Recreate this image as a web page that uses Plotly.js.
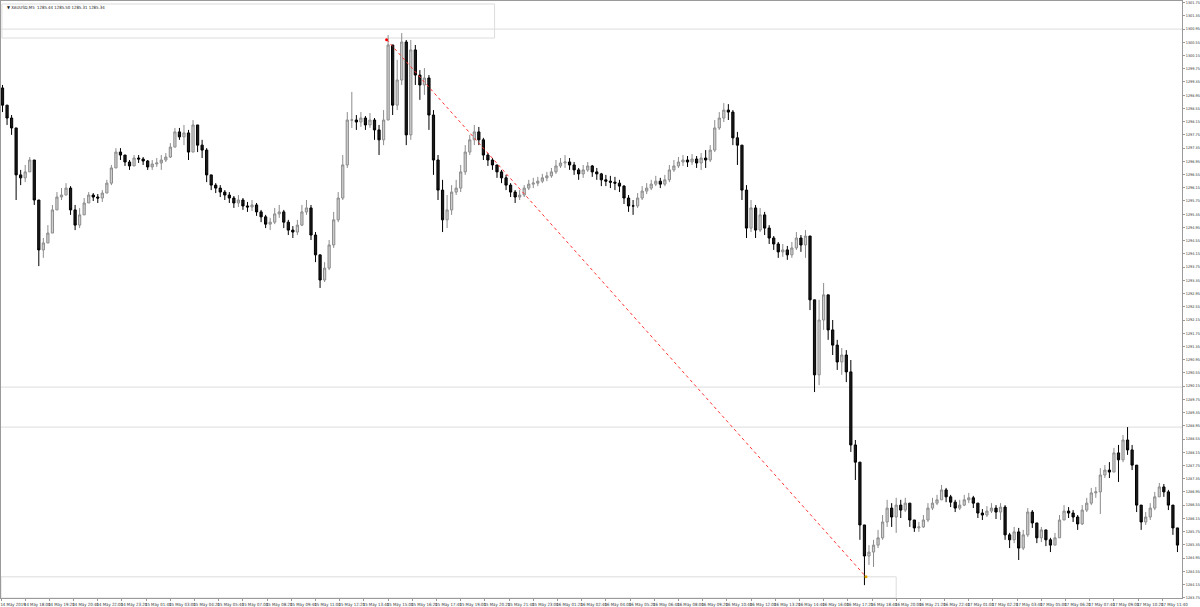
<!DOCTYPE html>
<html>
<head>
<meta charset="utf-8">
<script src="https://cdn.plot.ly/plotly-3.0.1.min.js"></script>
<style>html,body{margin:0;padding:0;background:#fff}#chart{width:1200px;height:607px}</style>
</head>
<body>
<div id="chart"></div>
<script>
// XAUUSD M5 — one candle per 3 M5 bars (15 min)
const symbolTitle = "XAUUSD,M5  1285.44 1285.50 1285.31 1285.34";
const firstOpen = 1299.17;
const closes = [
1298.65,1298.26,1297.96,1296.54,1296.45,1296.63,1296.99,1295.78,1294.27,1294.48,
1294.78,1295.48,1295.87,1295.93,1296.14,1295.48,1295.02,1295.33,1295.69,1295.93,
1295.87,1295.84,1295.99,1296.29,1296.75,1297.23,1297.14,1296.93,1296.81,1297.05,
1297.02,1296.96,1296.78,1296.87,1296.90,1296.99,1297.08,1297.38,1297.84,1297.69,
1297.81,1297.23,1298.05,1297.44,1297.29,1296.54,1296.23,1296.14,1296.02,1295.93,
1295.84,1295.69,1295.78,1295.60,1295.57,1295.63,1295.42,1295.27,1295.05,1295.11,
1295.36,1295.42,1295.11,1294.87,1294.81,1295.02,1295.42,1295.54,1294.72,1294.12,
1293.36,1293.72,1294.42,1295.18,1295.84,1296.84,1298.20,1298.20,1298.14,1298.26,
1298.05,1298.20,1297.90,1297.60,1298.20,1300.47,1298.65,1299.41,1300.56,1297.75,
1300.32,1299.56,1299.26,1299.47,1298.35,1296.99,1296.08,1295.18,1295.48,1296.02,
1296.14,1296.63,1297.23,1297.60,1297.84,1297.60,1297.14,1296.99,1296.84,1296.63,
1296.45,1296.23,1296.02,1295.87,1295.93,1296.14,1296.26,1296.29,1296.35,1296.45,
1296.51,1296.63,1296.81,1296.90,1296.93,1296.84,1296.69,1296.57,1296.69,1296.81,
1296.63,1296.57,1296.39,1296.35,1296.32,1296.29,1296.20,1295.84,1295.60,1295.60,
1295.84,1296.05,1296.14,1296.26,1296.35,1296.26,1296.39,1296.69,1296.81,1296.93,
1296.99,1296.93,1297.02,1296.90,1297.05,1296.99,1297.29,1297.96,1298.26,1298.50,
1298.44,1297.66,1297.44,1296.08,1294.93,1295.54,1294.87,1295.33,1294.93,1294.63,
1294.45,1294.21,1294.27,1294.12,1294.33,1294.63,1294.42,1294.69,1292.76,1290.49,
1292.15,1292.91,1291.85,1291.39,1290.88,1291.09,1290.58,1288.37,1287.85,1285.95,
1285.01,1285.13,1285.34,1285.56,1286.04,1286.46,1286.19,1286.55,1286.40,1286.61,
1286.10,1285.86,1285.89,1286.10,1286.46,1286.61,1286.71,1287.01,1286.80,1286.64,
1286.46,1286.55,1286.71,1286.77,1286.61,1286.31,1286.25,1286.37,1286.46,1286.34,
1286.49,1285.65,1285.50,1285.74,1285.25,1285.65,1286.34,1286.01,1285.56,1285.80,
1285.50,1285.34,1285.56,1286.10,1286.37,1286.31,1286.19,1285.98,1286.40,1286.61,
1286.92,1286.95,1287.46,1287.61,1287.55,1288.13,1287.92,1288.52,1288.22,1287.76,
1286.55,1286.04,1286.19,1286.46,1286.80,1287.10,1286.95,1286.55,1285.86,1285.34
];
const highs = [
1299.26,1298.50,1298.35,1297.60,1296.69,1296.84,1297.08,1296.84,1295.33,1294.63,
1295.02,1295.63,1296.02,1296.14,1296.29,1296.20,1295.63,1295.54,1295.84,1296.02,
1295.99,1295.96,1296.08,1296.39,1296.84,1297.35,1297.35,1297.11,1296.99,1297.14,
1297.14,1297.08,1296.99,1296.99,1297.05,1297.14,1297.20,1297.50,1297.96,1297.96,
1298.05,1297.90,1298.20,1298.05,1297.60,1297.35,1296.54,1296.29,1296.23,1296.08,
1296.02,1295.90,1295.93,1295.84,1295.72,1295.78,1295.69,1295.48,1295.33,1295.24,
1295.54,1295.63,1295.48,1295.18,1294.99,1295.18,1295.63,1295.78,1295.63,1294.81,
1294.12,1293.90,1294.57,1295.42,1296.02,1297.14,1298.44,1299.05,1298.35,1298.44,
1298.32,1298.41,1298.26,1298.05,1298.50,1300.77,1300.47,1300.02,1300.83,1300.62,
1300.62,1300.47,1299.71,1299.77,1299.56,1298.50,1297.14,1296.39,1295.93,1296.23,
1296.39,1296.84,1297.44,1297.75,1298.05,1297.99,1297.66,1297.20,1297.05,1296.84,
1296.69,1296.54,1296.29,1296.08,1296.08,1296.23,1296.39,1296.45,1296.48,1296.57,
1296.63,1296.75,1296.99,1297.05,1297.14,1297.05,1296.93,1296.75,1296.84,1296.93,
1296.84,1296.75,1296.60,1296.54,1296.51,1296.48,1296.39,1296.23,1295.93,1295.78,
1295.99,1296.20,1296.29,1296.39,1296.51,1296.45,1296.54,1296.84,1296.99,1297.08,
1297.14,1297.11,1297.17,1297.11,1297.20,1297.29,1297.44,1298.20,1298.44,1298.71,
1298.68,1298.50,1297.84,1297.44,1296.23,1295.78,1295.63,1295.54,1295.42,1295.02,
1294.69,1294.51,1294.45,1294.39,1294.51,1294.81,1294.72,1294.87,1294.03,1292.76,
1292.76,1293.27,1292.91,1292.15,1291.55,1291.30,1291.24,1290.94,1288.52,1287.85,
1285.95,1285.34,1285.50,1285.80,1286.25,1286.71,1286.61,1286.77,1286.71,1286.77,
1286.55,1286.10,1286.04,1286.25,1286.61,1286.77,1286.86,1287.16,1287.07,1286.86,
1286.71,1286.71,1286.86,1286.92,1286.83,1286.61,1286.43,1286.52,1286.61,1286.55,
1286.61,1286.55,1285.71,1285.89,1285.86,1285.80,1286.46,1286.40,1285.95,1285.89,
1285.80,1285.56,1285.71,1286.25,1286.55,1286.49,1286.40,1286.25,1286.55,1286.77,
1287.07,1287.10,1287.67,1287.76,1287.85,1288.28,1288.37,1288.67,1288.91,1288.37,
1287.76,1286.55,1286.34,1286.61,1286.95,1287.22,1287.19,1287.01,1286.55,1285.86
];
const lows = [
1298.44,1298.05,1297.75,1295.78,1296.23,1296.32,1296.75,1295.63,1293.78,1294.03,
1294.57,1295.02,1295.63,1295.78,1295.93,1295.33,1294.87,1294.93,1295.48,1295.69,
1295.75,1295.69,1295.72,1296.02,1296.23,1296.84,1296.99,1296.81,1296.69,1296.81,
1296.90,1296.84,1296.69,1296.69,1296.78,1296.69,1296.93,1297.05,1297.44,1297.60,
1297.44,1296.99,1297.44,1297.23,1297.05,1296.32,1296.08,1295.99,1295.87,1295.78,
1295.69,1295.54,1295.57,1295.48,1295.42,1295.45,1295.30,1295.11,1294.93,1294.87,
1295.05,1295.24,1294.93,1294.72,1294.63,1294.72,1294.99,1295.33,1294.57,1293.90,
1293.12,1293.30,1293.66,1294.33,1295.11,1295.78,1296.75,1297.96,1297.90,1297.99,
1297.90,1297.96,1297.60,1297.14,1297.44,1298.20,1298.35,1298.50,1299.26,1297.44,
1297.60,1299.26,1298.81,1298.96,1297.90,1296.54,1295.78,1294.81,1294.93,1295.33,
1295.93,1296.02,1296.54,1297.14,1297.44,1297.44,1296.99,1296.81,1296.69,1296.45,
1296.29,1296.08,1295.87,1295.69,1295.78,1295.87,1296.08,1296.14,1296.20,1296.29,
1296.35,1296.45,1296.57,1296.75,1296.75,1296.69,1296.54,1296.39,1296.45,1296.63,
1296.48,1296.39,1296.20,1296.20,1296.14,1296.08,1296.02,1295.66,1295.42,1295.33,
1295.54,1295.78,1295.96,1296.08,1296.20,1296.14,1296.20,1296.32,1296.63,1296.75,
1296.81,1296.78,1296.84,1296.75,1296.69,1296.75,1296.93,1297.23,1297.90,1298.14,
1298.20,1297.44,1296.84,1295.78,1294.63,1294.81,1294.63,1294.81,1294.72,1294.45,
1294.27,1294.03,1294.06,1293.97,1294.03,1294.27,1294.21,1294.03,1292.45,1289.97,
1290.18,1291.85,1291.55,1291.09,1290.64,1290.49,1290.27,1288.16,1287.31,1285.50,
1284.13,1284.74,1284.68,1285.25,1285.50,1285.89,1285.89,1285.71,1286.16,1286.34,
1285.89,1285.74,1285.74,1285.86,1286.04,1286.40,1286.55,1286.71,1286.64,1286.49,
1286.34,1286.40,1286.52,1286.61,1286.46,1286.16,1286.10,1286.19,1286.31,1286.13,
1286.10,1285.50,1285.25,1285.40,1284.89,1285.19,1285.59,1285.86,1285.40,1285.43,
1285.31,1285.13,1285.34,1285.65,1286.16,1286.16,1286.04,1285.80,1285.95,1286.34,
1286.55,1286.77,1286.28,1287.37,1287.37,1287.61,1287.25,1287.85,1288.07,1287.61,
1286.34,1285.80,1285.95,1286.10,1286.40,1286.86,1286.80,1286.40,1285.65,1285.13
];
const timeLabels = [
"14 May 2019","14 May 18:00","14 May 19:20","14 May 20:40","14 May 22:00","14 May 23:20",
"15 May 01:40","15 May 03:00","15 May 04:20","15 May 05:40","15 May 07:00","15 May 08:20",
"15 May 09:40","15 May 11:00","15 May 12:20","15 May 13:40","15 May 15:00","15 May 16:20",
"15 May 17:40","15 May 19:00","15 May 20:20","15 May 21:40","15 May 23:00","16 May 01:20",
"16 May 02:40","16 May 04:00","16 May 05:20","16 May 06:40","16 May 08:00","16 May 09:20",
"16 May 10:40","16 May 12:00","16 May 13:20","16 May 14:40","16 May 16:00","16 May 17:20",
"16 May 18:40","16 May 20:00","16 May 21:20","16 May 22:40","17 May 01:00","17 May 02:20",
"17 May 03:40","17 May 05:00","17 May 06:20","17 May 07:40","17 May 09:00","17 May 10:20",
"17 May 11:40","17 May 13:00"
];
// chart objects (price levels / bar indices)
const hLevels = [1300.95, 1290.12, 1288.91];
const trendBars = [255, 572];
const trendPrices = [1300.63, 1284.38];
const boxTop = {bars:[0.6, 326.4], prices:[1301.71, 1300.68]};
const boxBottom = {bars:[0, 592], prices:[1284.38, 1283.74]};

const barsPerCandle = 3, barsPerLabel = 16;
const xs = closes.map((c, i) => i * barsPerCandle + 1);
const opens = closes.map((c, i) => i === 0 ? firstOpen : closes[i - 1]);
const hi = highs.map((h, i) => Math.max(h, opens[i], closes[i]));
const lo = lows.map((l, i) => Math.min(l, opens[i], closes[i]));
const tickVals = timeLabels.map((t, k) => k * barsPerLabel);

const font = '"Liberation Sans Narrow", "DejaVu Sans Condensed", "Liberation Sans", sans-serif';
const traces = [
  {
    type: 'candlestick', x: xs, open: opens, high: hi, low: lo, close: closes,
    increasing: {line: {color: '#8c8c8c', width: 1}, fillcolor: '#cfcfcf'},
    decreasing: {line: {color: '#000000', width: 1}, fillcolor: '#1a1a1a'},
    whiskerwidth: 0, hoverinfo: 'skip', showlegend: false
  },
  {
    type: 'scatter', mode: 'lines', x: trendBars, y: trendPrices,
    line: {color: '#ff3030', width: 1, dash: 'dot'}, hoverinfo: 'skip', showlegend: false
  },
  {
    type: 'scatter', mode: 'markers', x: trendBars, y: trendPrices,
    marker: {color: ['#ff0000', '#e0a000'], size: 3}, hoverinfo: 'skip', showlegend: false
  }
];

const shapes = hLevels.map(p => ({
  type: 'line', xref: 'paper', x0: 0, x1: 1, yref: 'y', y0: p, y1: p,
  line: {color: '#dcdcdc', width: 1}, layer: 'below'
}));
[boxTop, boxBottom].forEach(b => shapes.push({
  type: 'rect', xref: 'x', yref: 'y', x0: b.bars[0], x1: b.bars[1], y0: b.prices[0], y1: b.prices[1],
  line: {color: '#dcdcdc', width: 1}, fillcolor: 'rgba(0,0,0,0)', layer: 'below'
}));

const layout = {
  width: 1200, height: 607,
  margin: {l: 1, r: 18, t: 1, b: 9, pad: 0},
  paper_bgcolor: '#ffffff', plot_bgcolor: '#ffffff',
  showlegend: false,
  xaxis: {
    range: [0, 781], showgrid: false, zeroline: false,
    showline: true, mirror: true, linecolor: '#9a9a9a', linewidth: 1,
    ticks: 'outside', ticklen: 2, tickcolor: '#9a9a9a',
    tickmode: 'array', tickvals: tickVals, ticktext: timeLabels, tickangle: 0,
    ticklabelshift: 12, ticklabelstandoff: 0, ticklabeloverflow: 'allow',
    tickfont: {family: font, size: 4.3, color: '#333'},
    rangeslider: {visible: false}, fixedrange: true
  },
  yaxis: {
    side: 'right', range: [1283.74, 1301.80], tick0: 1283.75, dtick: 0.4, tickformat: '.2f',
    showgrid: false, zeroline: false, showline: true, mirror: true,
    linecolor: '#9a9a9a', linewidth: 1,
    ticks: 'outside', ticklen: 2, tickcolor: '#9a9a9a', ticklabelstandoff: 0,
    ticklabeloverflow: 'allow',
    tickfont: {family: font, size: 3.8, color: '#333'}, fixedrange: true
  },
  shapes: shapes,
  annotations: [{
    xref: 'paper', yref: 'paper', x: 0.003, y: 0.997, xanchor: 'left', yanchor: 'top',
    showarrow: false, text: '▼ ' + symbolTitle,
    font: {family: font, size: 4.3, color: '#222'}
  }]
};

Plotly.newPlot('chart', traces, layout, {staticPlot: true, displayModeBar: false});
</script>
</body>
</html>
